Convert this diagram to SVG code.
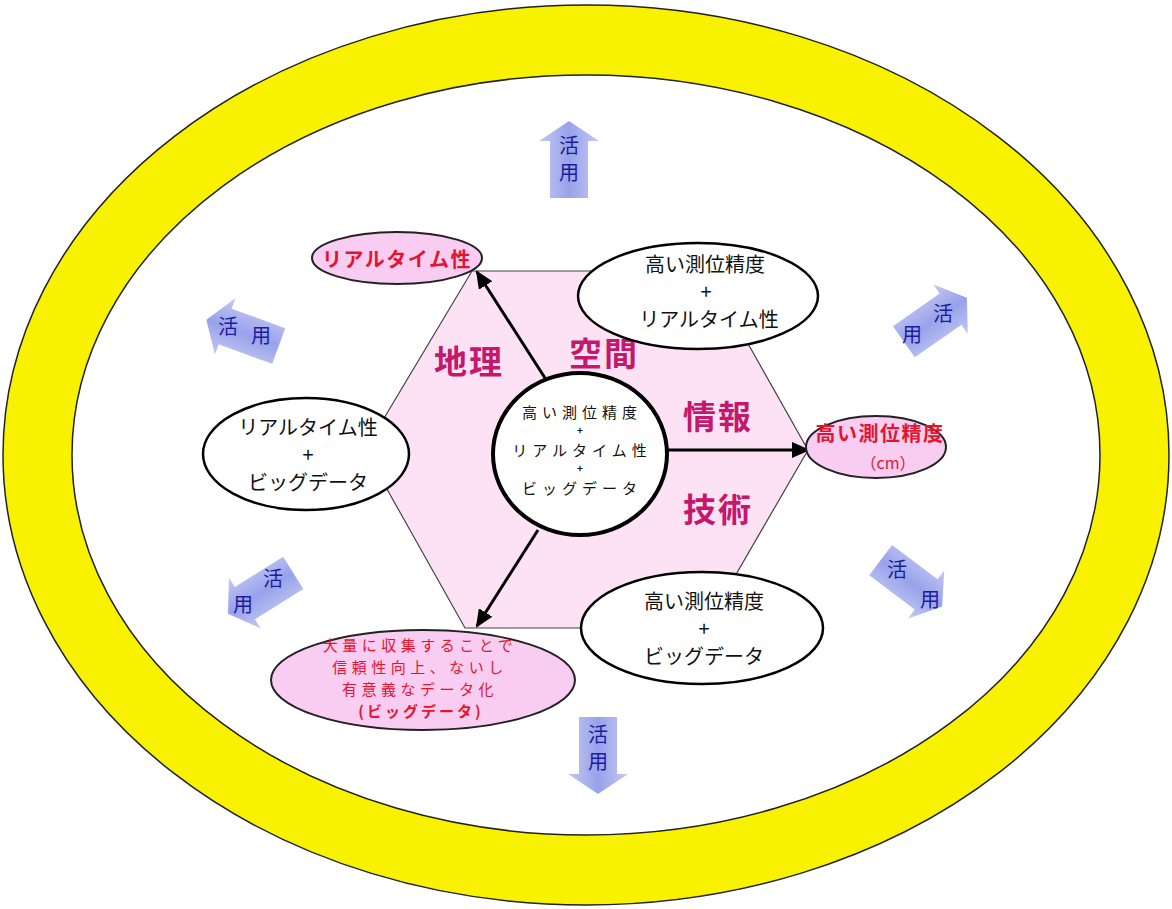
<svg xmlns="http://www.w3.org/2000/svg" width="1172" height="909" viewBox="0 0 1172 909">
<defs>
<style>
text{font-family:"Noto Sans CJK JP","Noto Sans CJK SC",sans-serif;text-anchor:middle;dominant-baseline:central}
.blk{fill:#111;font-size:20px}
.ctr{fill:#111;font-size:15px;letter-spacing:5px}
.plus{fill:#111;font-size:10px;font-weight:bold}
.red{fill:#e3142e;font-weight:bold;font-size:20px;letter-spacing:1.5px}
.reds{fill:#e3142e;font-size:15px;letter-spacing:4.5px}
.hex{fill:#c4186c;font-weight:bold;font-size:33px;letter-spacing:2px}
.act{fill:#1c1c9c;font-size:20px}
.wel{fill:#fff;stroke:#000;stroke-width:2.5}
.pel{fill:#f9ccf2;stroke:#222;stroke-width:2}
.conn{stroke:#000;stroke-width:3;fill:none}
</style>
<linearGradient id="ag" x1="0" y1="0" x2="0" y2="1">
<stop offset="0" stop-color="#c3c8f4"/>
<stop offset="0.5" stop-color="#98a2ea"/>
<stop offset="1" stop-color="#c3c8f4"/>
</linearGradient>
<path id="actArrow" d="M-38,-19 L19,-19 L19,-30 L39,0 L19,30 L19,19 L-38,19 Z" fill="url(#ag)"/>
<marker id="ah" markerUnits="userSpaceOnUse" markerWidth="18" markerHeight="16" viewBox="0 0 18 16" refX="16" refY="8" orient="auto">
<path d="M0,0 L18,8 L0,16 Z" fill="#000"/>
</marker>
</defs>
<rect width="1172" height="909" fill="#fff"/>
<g id="ring">
<ellipse cx="586" cy="455" rx="583" ry="450" fill="#f8f200" stroke="#222" stroke-width="1.5"/>
<ellipse cx="586" cy="455" rx="514" ry="380" fill="#fff" stroke="#222" stroke-width="1.5"/>
</g>
<g id="hexagon">
<polygon points="472,271 707,271 808,450 705,628 465,628 365,450" fill="#fde2f6" stroke="#444" stroke-width="1.2"/>
<text class="hex" x="469" y="360">地理</text>
<text class="hex" x="604" y="352">空間</text>
<text class="hex" x="718" y="415">情報</text>
<text class="hex" x="718" y="508">技術</text>
</g>
<g id="connectors">
<line class="conn" x1="545" y1="378" x2="477" y2="272" marker-end="url(#ah)"/>
<line class="conn" x1="668" y1="450" x2="808" y2="450" marker-end="url(#ah)"/>
<line class="conn" x1="538" y1="530" x2="477" y2="626" marker-end="url(#ah)"/>
</g>
<g id="center">
<ellipse cx="580" cy="454" rx="87" ry="81" fill="#fff" stroke="#000" stroke-width="4"/>
<text class="ctr" x="582" y="411">高い測位精度</text>
<text class="plus" x="580" y="429.5">+</text>
<text class="ctr" x="582" y="449">リアルタイム性</text>
<text class="plus" x="580" y="467.5">+</text>
<text class="ctr" x="582" y="487">ビッグデータ</text>
</g>
<g id="realtime">
<ellipse class="pel" cx="397" cy="258" rx="85" ry="26"/>
<text class="red" x="397" y="258">リアルタイム性</text>
</g>
<g id="accuracy">
<ellipse class="pel" cx="876" cy="447" rx="70" ry="31"/>
<text class="red" x="880" y="432">高い測位精度</text>
<text x="888" y="462" style="fill:#e3142e;font-size:16px">（cm）</text>
</g>
<g id="bigdata">
<ellipse class="pel" cx="423" cy="680" rx="152" ry="50"/>
<text class="reds" x="420" y="644">大量に収集することで</text>
<text class="reds" x="420" y="666">信頼性向上、ないし</text>
<text class="reds" x="420" y="688">有意義なデータ化</text>
<text class="reds" x="421" y="710" style="font-weight:bold;letter-spacing:3px">(ビッグデータ)</text>
</g>
<g id="acc-rt">
<ellipse class="wel" cx="698" cy="296" rx="120" ry="53"/>
<text class="blk" x="705" y="263">高い測位精度</text>
<text class="blk" x="706" y="290">+</text>
<text class="blk" x="709" y="318">リアルタイム性</text>
</g>
<g id="rt-bd">
<ellipse class="wel" cx="306" cy="454" rx="103" ry="56"/>
<text class="blk" x="308" y="426">リアルタイム性</text>
<text class="blk" x="308" y="453">+</text>
<text class="blk" x="308" y="481">ビッグデータ</text>
</g>
<g id="acc-bd">
<ellipse class="wel" cx="702" cy="628" rx="121" ry="56"/>
<text class="blk" x="704" y="600">高い測位精度</text>
<text class="blk" x="704" y="627">+</text>
<text class="blk" x="704" y="655">ビッグデータ</text>
</g>
<g id="use-top">
<use href="#actArrow" transform="translate(569,160) rotate(-90)"/>
<text class="act" x="569" y="144">活</text>
<text class="act" x="569" y="171">用</text>
</g>
<g id="use-bottom">
<use href="#actArrow" transform="translate(598,755) rotate(90)"/>
<text class="act" x="598" y="733">活</text>
<text class="act" x="598" y="760">用</text>
</g>
<g id="use-upper-left">
<use href="#actArrow" transform="translate(243,333) rotate(200)"/>
<text class="act" x="228" y="325">活</text>
<text class="act" x="261" y="334">用</text>
</g>
<g id="use-upper-right">
<use href="#actArrow" transform="translate(935,320) rotate(-35)"/>
<text class="act" x="912" y="333">用</text>
<text class="act" x="943" y="312">活</text>
</g>
<g id="use-lower-left">
<use href="#actArrow" transform="translate(261,593) rotate(148)"/>
<text class="act" x="273" y="577">活</text>
<text class="act" x="243" y="603">用</text>
</g>
<g id="use-lower-right">
<use href="#actArrow" transform="translate(911,583) rotate(37)"/>
<text class="act" x="897" y="568">活</text>
<text class="act" x="930" y="598">用</text>
</g>
</svg>
